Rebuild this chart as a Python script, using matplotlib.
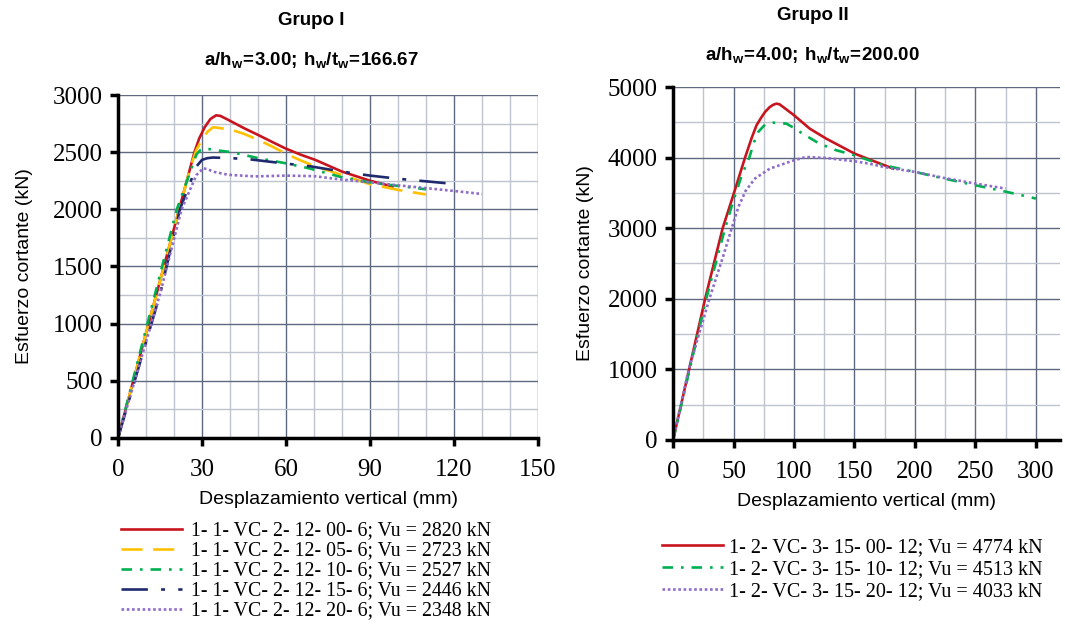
import numpy as np
import matplotlib.pyplot as plt
from matplotlib.ticker import MultipleLocator

plt.rcParams['mathtext.fontset'] = 'custom'
plt.rcParams['mathtext.rm'] = 'Liberation Sans'
plt.rcParams['mathtext.bf'] = 'Liberation Sans:bold'

# Grupo I data (mm, kN)
g1_labels = ['1- 1- VC- 2- 12- 00- 6; Vu = 2820 kN',
             '1- 1- VC- 2- 12- 05- 6; Vu = 2723 kN',
             '1- 1- VC- 2- 12- 10- 6; Vu = 2527 kN',
             '1- 1- VC- 2- 12- 15- 6; Vu = 2446 kN',
             '1- 1- VC- 2- 12- 20- 6; Vu = 2348 kN']
g1_x = [
    [0, 27.3, 29, 31, 33, 35, 36.5, 39.4, 45, 50, 55, 59.6, 65, 70.4, 80, 90, 98],
    [0, 26, 28, 30, 32, 34, 36, 40.6, 45, 50, 55, 59.6, 65, 70, 80, 90, 100, 110],
    [0, 21, 28, 29.5, 31, 34, 40.6, 50, 59.6, 68, 80, 90, 100, 110],
    [0, 15, 22.1, 28, 30, 32, 34, 40, 46.5, 58.5, 69, 80, 90, 101, 110, 120],
    [0, 15, 22.7, 28, 30.5, 32.5, 34.6, 39.4, 48.9, 60, 70, 80, 90, 100, 113, 121, 130],
]
g1_y = [
    [0, 2500, 2620, 2720, 2790, 2822, 2818, 2782, 2710, 2651, 2590, 2535, 2480, 2433, 2330, 2250, 2200],
    [0, 2380, 2520, 2610, 2680, 2718, 2712, 2695, 2660, 2608, 2550, 2491, 2430, 2380, 2300, 2220, 2170, 2130],
    [0, 2000, 2480, 2520, 2535, 2520, 2500, 2448, 2404, 2360, 2280, 2235, 2205, 2175],
    [0, 1256, 2000, 2375, 2433, 2448, 2453, 2448, 2439, 2404, 2375, 2330, 2295, 2265, 2245, 2222],
    [0, 1260, 2000, 2300, 2360, 2345, 2326, 2302, 2288, 2295, 2290, 2260, 2236, 2210, 2178, 2158, 2134],
]
g1_colors = ['#C8141E', '#FFC000', '#00B050', '#1F2A6E', '#8E6CC8']
g1_styles = ['-', (0, (8, 4)), (0, (4, 3, 1, 3)), (0, (10, 5, 1.5, 5)), (0, (1, 1))]

# Grupo II data (mm, kN)
g2_labels = ['1- 2- VC- 3- 15- 00- 12; Vu = 4774 kN',
             '1- 2- VC- 3- 15- 10- 12; Vu = 4513 kN',
             '1- 2- VC- 3- 15- 20- 12; Vu = 4033 kN']
g2_x = [
    [0, 26.5, 41, 50, 59.5, 65, 69, 73, 76, 80, 83, 85.5, 88, 91, 100, 113, 126.6, 150, 162, 182],
    [0, 27.4, 43, 50, 57, 63, 67, 70.4, 76, 82.7, 93.7, 100, 107, 121, 135, 150, 174, 200, 224, 250, 276, 300],
    [0, 12.9, 30, 41, 48.5, 54, 60, 67.7, 80, 100, 110, 126.6, 150, 162, 174, 200, 224, 250, 275],
]
g2_y = [
    [0, 2000, 3000, 3480, 4000, 4280, 4458, 4570, 4646, 4717, 4750, 4764, 4755, 4717, 4600, 4410, 4269, 4057, 3976, 3844],
    [0, 2000, 3000, 3400, 3760, 4000, 4220, 4363, 4467, 4495, 4481, 4420, 4340, 4198, 4104, 4033, 3892, 3797, 3703, 3608, 3514, 3420],
    [0, 1000, 2000, 2580, 3000, 3300, 3530, 3703, 3844, 3962, 4009, 3995, 3948, 3915, 3868, 3797, 3712, 3632, 3561],
]
g2_colors = ['#C8141E', '#00B050', '#8E6CC8']
g2_styles = ['-', (0, (4, 3, 1, 3)), (0, (1, 1))]

serif = 'Liberation Serif'
sans = 'Liberation Sans'

fig = plt.figure(figsize=(10.65, 6.3), dpi=100)
ax1 = fig.add_axes([0.1108, 0.3048, 0.3944, 0.5444])
ax2 = fig.add_axes([0.632, 0.3016, 0.3634, 0.5603])


def style_axis(ax, xmaj, xmin, ymaj, ymin):
    ax.xaxis.set_major_locator(MultipleLocator(xmaj))
    ax.xaxis.set_minor_locator(MultipleLocator(xmin))
    ax.yaxis.set_major_locator(MultipleLocator(ymaj))
    ax.yaxis.set_minor_locator(MultipleLocator(ymin))
    ax.grid(which='major', color='#5E6A80', lw=1.0)
    ax.grid(which='minor', color='#BEC3CE', lw=1.0)
    ax.set_axisbelow(True)
    for s in ['top', 'right']:
        ax.spines[s].set_visible(False)
    for s in ['left', 'bottom']:
        ax.spines[s].set_linewidth(2.5)
    ax.tick_params(which='major', direction='out', length=6, width=2.5, labelsize=18, pad=5)
    ax.tick_params(axis='x', which='major', pad=9)
    ax.tick_params(which='minor', length=0)
    for lab in ax.get_xticklabels() + ax.get_yticklabels():
        lab.set_fontfamily(serif)


for x, y, c, ls, lab in zip(g1_x, g1_y, g1_colors, g1_styles, g1_labels):
    ax1.plot(x, y, color=c, ls=ls, lw=1.9, label=lab)
ax1.set_xlim(0, 150)
ax1.set_ylim(0, 3000)
style_axis(ax1, 30, 10, 500, 250)
ax1.set_xlabel('Desplazamiento vertical (mm)', fontfamily=sans, fontsize=14, labelpad=7)
ax1.set_ylabel('Esfuerzo cortante (kN)', fontfamily=sans, fontsize=14, labelpad=14)
ax1.legend(loc='upper left', bbox_to_anchor=(0.008, -0.244), frameon=False,
           prop={'family': serif, 'size': 14.3}, handlelength=3.05, labelspacing=0.05,
           handletextpad=0.45, borderaxespad=0, borderpad=0)

for x, y, c, ls, lab in zip(g2_x, g2_y, g2_colors, g2_styles, g2_labels):
    ax2.plot(x, y, color=c, ls=ls, lw=1.9, label=lab)
ax2.set_xlim(0, 320)
ax2.set_ylim(0, 5000)
style_axis(ax2, 50, 25, 1000, 500)
ax2.set_xlabel('Desplazamiento vertical (mm)', fontfamily=sans, fontsize=14, labelpad=7)
ax2.set_ylabel('Esfuerzo cortante (kN)', fontfamily=sans, fontsize=14, labelpad=10)
ax2.legend(loc='upper left', bbox_to_anchor=(-0.028, -0.278), frameon=False,
           prop={'family': serif, 'size': 14.5}, handlelength=3.0, labelspacing=0.15,
           handletextpad=0.3, borderaxespad=0, borderpad=0)

fig.text(0.292, 0.968, 'Grupo I', ha='center', va='center', fontfamily=sans,
         fontweight='bold', fontsize=13.5)
fig.text(0.292, 0.905, r'$\mathbf{a/h_w\!=\!3.00;\,h_w/t_w\!=\!166.67}$', ha='center',
         va='center', fontsize=13.5)
fig.text(0.763, 0.976, 'Grupo II', ha='center', va='center', fontfamily=sans,
         fontweight='bold', fontsize=13.5)
fig.text(0.763, 0.913, r'$\mathbf{a/h_w\!=\!4.00;\,h_w/t_w\!=\!200.00}$', ha='center',
         va='center', fontsize=13.5)

fig.savefig('out.png', dpi=100)
